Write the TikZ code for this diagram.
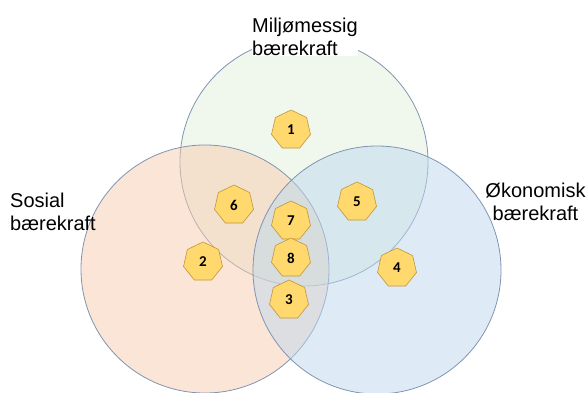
\documentclass[tikz,border=0pt]{standalone}
\usepackage{fontspec}
\setmainfont{Liberation Sans}
\newfontfamily\numfont{Carlito}
\usetikzlibrary{shapes.geometric}
\definecolor{miljo}{RGB}{226,239,218}
\definecolor{sosial}{RGB}{248,203,173}
\definecolor{okonomi}{RGB}{189,215,238}
\definecolor{ringline}{RGB}{128,148,178}
\definecolor{heptfill}{RGB}{255,217,110}
\definecolor{heptline}{RGB}{190,150,60}

\tikzset{
  ring/.style={draw=ringline, line width=0.8pt, fill opacity=0.5},
  hept/.style={regular polygon, regular polygon sides=7, minimum size=40pt,
    inner sep=0pt, fill=heptfill, draw=heptline, line width=0.6pt,
    font=\numfont\bfseries\fontsize{15}{15}\selectfont},
  label/.style={inner sep=0pt, font=\fontsize{20}{23}\selectfont}
}

\begin{document}
\begin{tikzpicture}[x=1pt, y=1pt]
			%%%%% START %%%%%
			\useasboundingbox (0, 0) rectangle (588, 392);
			\clip (0, 0) rectangle (588, 392);
			
			\draw[ring, fill=miljo] (304, 230) circle (124);
			\draw[ring, fill=sosial] (205, 123) circle (124);
			\draw[ring, fill=okonomi] (377, 122) circle (124);
			
			\node[hept] (h1) at (291, 262) {1};
			\node[hept] (h2) at (203, 130) {2};
			\node[hept] (h3) at (289, 92) {3};
			\node[hept] (h4) at (397, 124) {4};
			\node[hept] (h5) at (357, 190) {5};
			\node[hept] (h6) at (234, 187) {6};
			\node[hept] (h7) at (291, 171) {7};
			\node[hept] (h8) at (291, 134) {8};
			
			\node[label, fill=white, align=left, anchor=north west] (miljo) at (252, 374) {Miljømessig\\bærekraft};
			\node[label, align=left, anchor=north west] (sosial) at (10, 199) {Sosial\\bærekraft};
			\node[label, align=center, anchor=north] (okonomi) at (535.5, 209) {Økonomisk\\bærekraft};
			%%%%% END %%%%%
\end{tikzpicture}
\end{document}
